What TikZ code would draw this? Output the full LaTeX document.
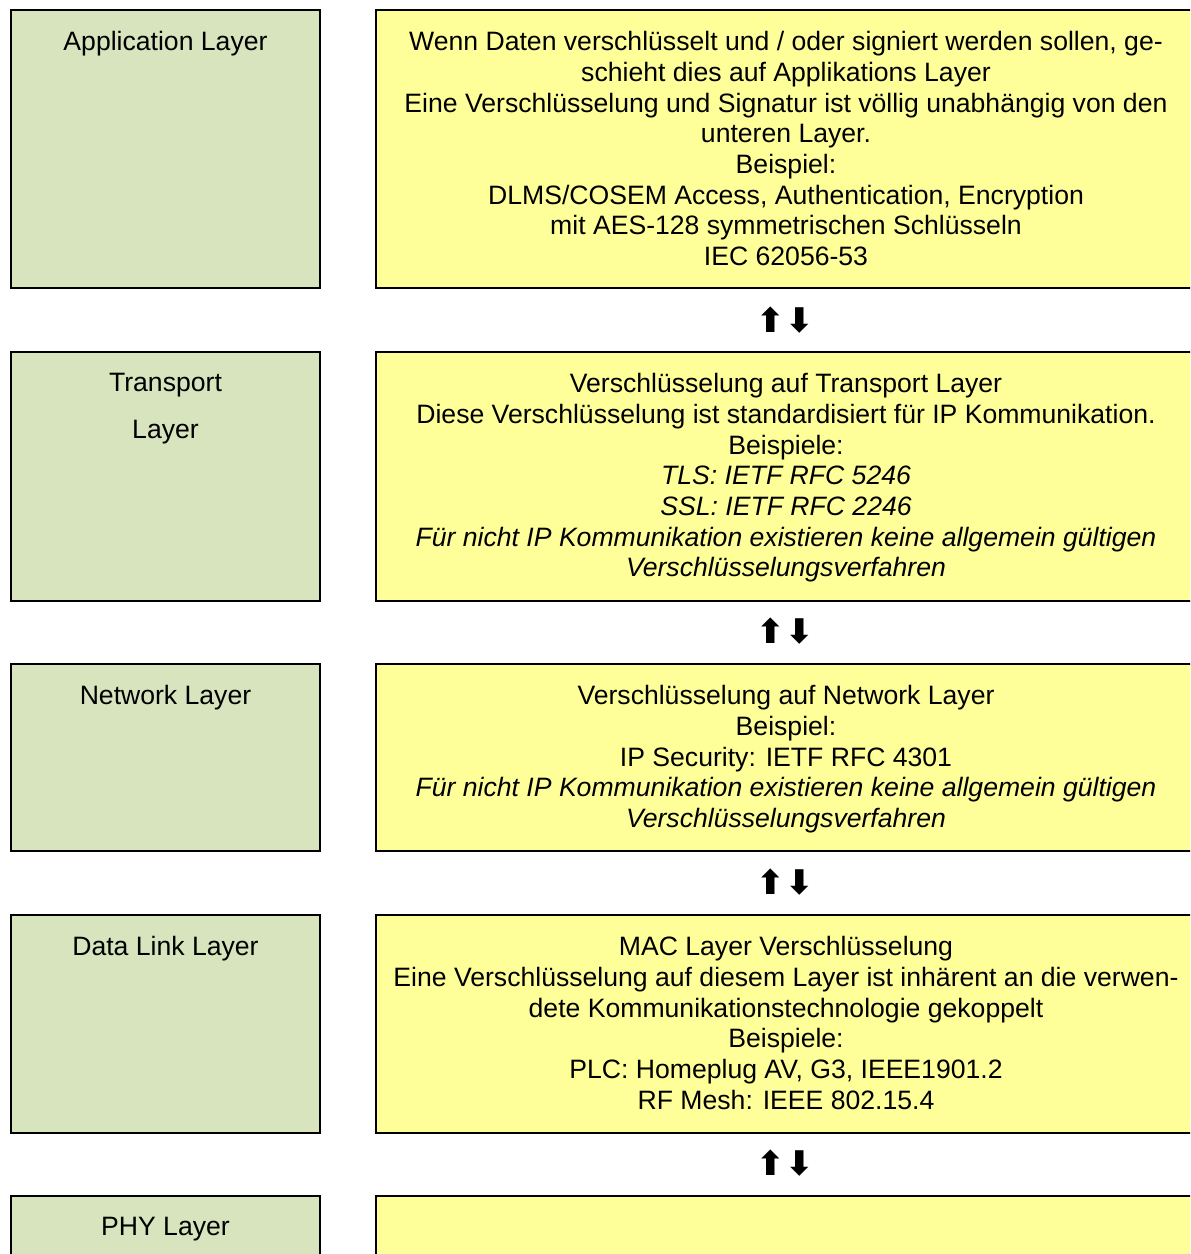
\documentclass[tikz,border=0pt]{standalone}
\usepackage{fontspec}
\setmainfont{Liberation Sans}
\newfontfamily\arrowfont{DejaVu Sans}
\usetikzlibrary{positioning}
\definecolor{olivelite}{HTML}{D7E4BD}
\definecolor{yellowlite}{HTML}{FFFF99}

\begin{document}
\begin{tikzpicture}[x=0.5pt,y=-0.5pt,
    layerbox/.style={draw=black,line width=1pt,fill=olivelite,anchor=north west,minimum width=154.5pt,inner sep=0pt},
    infobox/.style={draw=black,line width=1pt,fill=yellowlite,anchor=north west,minimum width=410pt,inner sep=0pt},
    boxtext/.style={inner sep=0pt,align=center,font=\fontsize{13.3}{15.35}\selectfont},
    updown/.style={inner sep=0pt,font=\arrowfont\bfseries\fontsize{17}{17}\selectfont}]
  \useasboundingbox (0,0) rectangle (1190,1254);
  \clip (0,0) rectangle (1190,1254);
  % left column
  \node[layerbox,minimum height=139pt] (appL) at (10,9) {};
  \node[layerbox,minimum height=124.5pt] (traL) at (10,351) {};
  \node[layerbox,minimum height=93.5pt] (netL) at (10,663) {};
  \node[layerbox,minimum height=109pt] (dllL) at (10,914) {};
  \node[layerbox,minimum height=50pt] (phyL) at (10,1195) {};
  % right column
  \node[infobox,minimum height=139pt] (appR) at (375,9) {};
  \node[infobox,minimum height=124.5pt] (traR) at (375,351) {};
  \node[infobox,minimum height=93.5pt] (netR) at (375,663) {};
  \node[infobox,minimum height=109pt] (dllR) at (375,914) {};
  \node[infobox,minimum height=50pt] (phyR) at (375,1195) {};
  % titles
  \node[boxtext,below=11pt of appL.north] (appT) {Application Layer};
  \node[boxtext,below=11pt of traL.north] (traT) {Transport\\[8.15pt]Layer};
  \node[boxtext,below=11pt of netL.north] (netT) {Network Layer};
  \node[boxtext,below=11pt of dllL.north] (dllT) {Data Link Layer};
  \node[boxtext,below=11pt of phyL.north] (phyT) {PHY Layer};
  % descriptions
  \node[boxtext,below=11pt of appR.north] (appD) {Wenn Daten verschlüsselt und / oder signiert werden sollen, ge-\\
    schieht dies auf Applikations Layer\\
    Eine Verschlüsselung und Signatur ist völlig unabhängig von den\\
    unteren Layer.\\
    Beispiel:\\
    DLMS/COSEM Access, Authentication, Encryption\\
    mit AES-128 symmetrischen Schlüsseln\\
    IEC 62056-53};
  \node[boxtext,below=11pt of traR.north] (traD) {Verschlüsselung auf Transport Layer\\
    Diese Verschlüsselung ist standardisiert für IP Kommunikation.\\
    Beispiele:\\
    \itshape TLS: IETF RFC 5246\\
    \itshape SSL: IETF RFC 2246\\
    \itshape Für nicht IP Kommunikation existieren keine allgemein gültigen\\
    \itshape Verschlüsselungsverfahren};
  \node[boxtext,below=11pt of netR.north] (netD) {Verschlüsselung auf Network Layer\\
    Beispiel:\\
    IP Security: IETF RFC 4301\\
    \itshape Für nicht IP Kommunikation existieren keine allgemein gültigen\\
    \itshape Verschlüsselungsverfahren};
  \node[boxtext,below=11pt of dllR.north] (dllD) {MAC Layer Verschlüsselung\\
    Eine Verschlüsselung auf diesem Layer ist inhärent an die verwen-\\
    dete Kommunikationstechnologie gekoppelt\\
    Beispiele:\\
    PLC: Homeplug AV, G3, IEEE1901.2\\
    RF Mesh: IEEE 802.15.4};
  % arrows between the layers
  \node[updown] (ud1) at (785,320) {⬆⬇};
  \node[updown] (ud2) at (785,631) {⬆⬇};
  \node[updown] (ud3) at (785,882) {⬆⬇};
  \node[updown] (ud4) at (785,1163) {⬆⬇};
\end{tikzpicture}
\end{document}
